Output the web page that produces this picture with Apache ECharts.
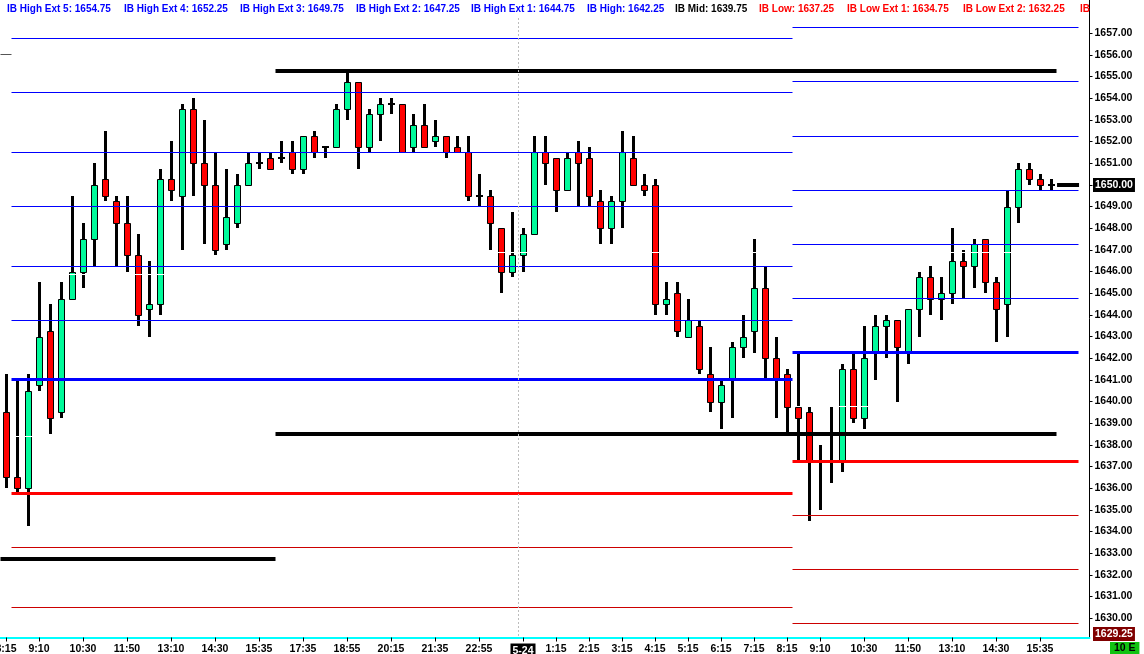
<!DOCTYPE html>
<html><head><meta charset="utf-8">
<script src="https://cdn.jsdelivr.net/npm/echarts@6/dist/echarts.min.js"></script>
<style>html,body{margin:0;padding:0;background:#fff}#c{width:1144px;height:654px}</style>
</head><body><div id="c"></div>
<script>
// ---------- DATA ----------
const opens = [1639.5,1636.5,1636.0,1640.75,1643.25,1639.5,1644.75,1646.0,1647.5,1650.25,
1649.25,1648.25,1646.75,1644.25,1644.5,1650.25,1649.5,1653.5,1651.0,1650.0,
1647.25,1648.25,1650.0,1651.0,1651.25,1651.25,1651.5,1650.75,1652.25,1651.75,
1651.75,1653.5,1654.75,1651.75,1653.25,1653.75,1653.75,1651.75,1652.75,1652.0,
1652.25,1651.75,1651.5,1649.5,1649.5,1648.0,1646.0,1646.75,1647.75,1651.5,
1651.25,1649.75,1651.5,1651.25,1649.25,1648.0,1649.25,1651.25,1650.0,1650.0,
1644.5,1645.0,1643.0,1643.5,1641.25,1640.0,1641.0,1642.5,1643.25,1645.25,
1642.0,1641.25,1639.75,1639.5,1637.25,1638.5,1637.25,1641.5,1639.25,1642.25,
1643.5,1643.75,1642.25,1644.25,1645.75,1644.75,1645.0,1646.5,1646.25,1647.5,
1645.5,1644.5,1649.0,1650.75,1650.25,1650.0];
const closes = [1636.5,1636.0,1640.5,1643.0,1639.25,1644.75,1646.0,1647.5,1650.0,1649.5,
1648.25,1646.75,1644.0,1644.5,1650.25,1649.75,1653.5,1651.0,1650.0,1647.0,
1648.5,1650.0,1651.0,1651.0,1650.75,1651.25,1650.75,1652.25,1651.5,1651.75,
1653.5,1654.75,1651.75,1653.25,1653.75,1653.75,1651.5,1652.75,1651.75,1652.25,
1651.5,1651.5,1649.5,1649.5,1648.25,1646.0,1646.75,1647.75,1651.5,1651.0,
1649.75,1651.25,1651.0,1649.5,1648.0,1649.25,1651.5,1650.0,1649.75,1644.5,
1644.75,1643.25,1643.75,1641.5,1640.0,1640.75,1642.5,1643.0,1645.25,1642.0,
1641.0,1639.75,1639.25,1637.25,1637.25,1638.5,1641.5,1639.25,1642.0,1643.5,
1643.75,1642.5,1644.25,1645.75,1644.75,1645.0,1646.5,1646.25,1647.25,1645.5,
1644.25,1649.0,1650.75,1650.25,1650.0,1650.0];
const lows = [1636.0,1635.75,1634.25,1640.5,1638.5,1639.25,1644.75,1645.25,1646.25,1649.25,
1646.25,1646.0,1643.5,1643.0,1644.0,1649.25,1647.0,1649.5,1647.25,1646.75,
1647.0,1648.0,1650.0,1650.75,1650.75,1651.0,1650.5,1650.5,1651.25,1651.25,
1651.75,1653.0,1650.75,1651.5,1652.0,1653.25,1651.5,1651.5,1651.75,1651.75,
1651.25,1651.5,1649.25,1649.0,1647.0,1645.0,1645.75,1646.0,1647.75,1650.0,
1648.75,1649.75,1649.0,1649.0,1647.25,1647.25,1648.0,1650.0,1649.5,1644.0,
1644.0,1643.0,1643.0,1641.25,1639.5,1638.75,1639.25,1642.0,1642.25,1641.0,
1639.25,1638.5,1637.25,1634.5,1635.0,1636.25,1636.75,1639.0,1638.75,1641.0,
1642.0,1640.0,1641.75,1643.0,1644.0,1643.75,1644.5,1644.75,1645.25,1645.0,
1642.75,1643.0,1648.25,1650.0,1649.75,1649.75];
const highs = [1641.25,1641.0,1641.25,1645.5,1644.5,1645.5,1649.5,1648.25,1651.0,1652.5,
1649.5,1649.5,1647.75,1646.5,1650.75,1652.0,1653.75,1654.0,1653.0,1651.5,
1650.75,1650.5,1651.5,1651.5,1651.5,1652.0,1652.0,1652.25,1652.5,1651.75,
1653.75,1655.25,1654.75,1653.5,1654.0,1654.0,1653.75,1653.25,1653.75,1653.0,
1652.25,1652.25,1652.25,1650.5,1649.75,1648.0,1648.75,1648.0,1652.25,1652.25,
1651.25,1651.5,1652.0,1651.75,1649.75,1649.5,1652.5,1652.25,1650.5,1650.25,
1645.5,1645.5,1644.75,1643.75,1642.5,1641.0,1642.75,1644.0,1647.5,1646.25,
1643.0,1641.5,1642.25,1639.75,1638.0,1639.75,1641.75,1642.25,1643.5,1644.0,
1644.0,1643.75,1644.25,1646.0,1646.25,1645.75,1648.0,1647.0,1647.5,1647.5,
1645.75,1649.75,1651.0,1651.0,1650.5,1650.25];

// x-axis tick labels (bar index -> text)
const tickIdx  = [0,3,7,11,15,19,23,27,31,35,39,43,47,50,53,56,59,62,65,68,71,74,78,82,86,90,94];
const tickText = ['8:15','9:10','10:30','11:50','13:10','14:30','15:35','17:35','18:55','20:15','21:35','22:55','5-24',
                  '1:15','2:15','3:15','4:15','5:15','6:15','7:15','8:15','9:10','10:30','11:50','13:10','14:30','15:35'];
const slotCount = 99;

// IB levels, day 1 (left) and day 2 (right)
const day1HighExt = [1643.75,1646.25,1649.0,1651.5,1654.25,1656.75];
const day1IB = [1641.0,1638.375,1635.75];   // high, mid, low
const day1LowExt = [1633.25,1630.5];
const day2HighExt = [1644.75,1647.25,1649.75,1652.25,1654.75,1657.25];
const day2IB = [1642.25,1639.75,1637.25];   // high, mid, low
const day2LowExt = [1634.75,1632.25,1629.75];
// other reference levels
const overnightHL = [1655.25,1638.5];
const priorLevel = [1632.75];
const stubLevel = [1656.0];
const whiteLevels = [1645.875,1646.875];
const lastPrice = 1650.0;
const axisLowPrice = 1629.25;
// session ranges in bar-index units
const D1 = [0.5,71.5], D2 = [71.5,97.5], ON = [24.5,95.5], PRE = [-0.5,24.5];
const cursorIdx = 46.5;

// ---------- BUILD ----------
const GREEN = '#00fa9a', RED = '#ff0000';
const cats = Array.from({length:slotCount},(_,i)=>String(i));
const tickMap = new Map(tickIdx.map((v,k)=>[v,tickText[k]]));
const candleData = opens.map((o,i)=>[i,o,closes[i],lows[i],highs[i]]);

const LS = [
  {color:'#0000ff',width:1},  //0 blue thin
  {color:'#0000ff',width:3},  //1 blue thick
  {color:'#ff0000',width:3},  //2 red thick
  {color:'#cc0000',width:1},  //3 red thin
  {color:'#000000',width:4},  //4 black thick
  {color:'#ffffff',width:1},  //5 white
  {color:'#555555',width:1},  //6 grey stub
  {color:'#bcbcbc',width:1,dash:[2,2],vertical:true} //7 cursor
];
const lineData = [];
day1HighExt.forEach(p=>lineData.push([D1[0],D1[1],p,0]));
lineData.push([D1[0],D1[1],day1IB[0],1]);
lineData.push([D1[0],D1[1],day1IB[2],2]);
lineData.push([D1[0],D1[1],day1IB[1],5]);
day1LowExt.forEach(p=>lineData.push([D1[0],D1[1],p,3]));
day2HighExt.forEach(p=>lineData.push([D2[0],D2[1],p,0]));
lineData.push([D2[0],D2[1],day2IB[0],1]);
lineData.push([D2[0],D2[1],day2IB[2],2]);
lineData.push([D2[0],D2[1],day2IB[1],5]);
day2LowExt.forEach(p=>lineData.push([D2[0],D2[1],p,3]));
lineData.push([PRE[0]+1,PRE[1],whiteLevels[0],5]);
lineData.push([ON[0],ON[1],whiteLevels[1],5]);
overnightHL.forEach(p=>lineData.push([ON[0],ON[1],p,4]));
priorLevel.forEach(p=>lineData.push([PRE[0],PRE[1],p,4]));
stubLevel.forEach(p=>lineData.push([-0.5,0.5,p,6]));
lineData.push([ON[1]+0.05,D2[1]+0.05,lastPrice,4]);
lineData.push([cursorIdx,cursorIdx,lastPrice,7]);

function renderCandle(params, api){
  const i=api.value(0), o=api.value(1), c=api.value(2);
  const l=Math.min(api.value(3),o,c), h=Math.max(api.value(4),o,c);
  const cx=Math.round(api.coord([i,o])[0]);
  const yO=Math.round(api.coord([i,o])[1]), yC=Math.round(api.coord([i,c])[1]);
  const yL=Math.round(api.coord([i,l])[1]), yH=Math.round(api.coord([i,h])[1]);
  const ch=[{type:'rect',shape:{x:cx-1,y:yH,width:3,height:Math.max(yL-yH,1)},style:{fill:'#000'}}];
  if(o===c){
    ch.push({type:'rect',shape:{x:cx-3,y:yO-1,width:7,height:2},style:{fill:'#000'}});
  } else {
    const t=Math.min(yO,yC), b=Math.max(yO,yC);
    ch.push({type:'rect',shape:{x:cx-2.5,y:t+0.5,width:6,height:Math.max(b-t,1)},
      style:{fill:c>o?GREEN:RED,stroke:'#000',lineWidth:1}});
  }
  return {type:'group',children:ch};
}
function renderLine(params, api){
  const s0=api.value(0), s1=api.value(1), p=api.value(2), st=LS[api.value(3)];
  const org=api.coord([0,p]); const bw=api.size([1,0])[0];
  const cs=params.coordSys;
  if(st.vertical){
    const x=Math.round(org[0]+s0*bw)+0.5;
    return {type:'line',shape:{x1:x,y1:cs.y+18,x2:x,y2:cs.y+cs.height},style:{stroke:st.color,lineWidth:1,lineDash:st.dash}};
  }
  let y=org[1];
  y = (st.width%2) ? Math.round(y-0.5)+0.5 : Math.round(y);
  return {type:'line',shape:{x1:org[0]+s0*bw,y1:y,x2:org[0]+s1*bw,y2:y},style:{stroke:st.color,lineWidth:st.width}};
}
const tagData = [[0,lastPrice,0],[0,axisLowPrice,1]];
const TAG = [{bg:'#000000',fg:'#ffffff'},{bg:'#800000',fg:'#ffffff'}];
function renderTag(params, api){
  const p=api.value(1), st=TAG[api.value(2)];
  const cs=params.coordSys; const y=api.coord([0,p])[1];
  return {type:'text',x:cs.x+cs.width+3.5,y:Math.round(y),style:{text:p.toFixed(2),fill:st.fg,
    backgroundColor:st.bg,padding:[2,2,1,2],font:'bold 10.5px "Liberation Sans", Arial, sans-serif',
    verticalAlign:'middle',align:'left'}};
}

// header
const headerLabels = ['IB High Ext 5','IB High Ext 4','IB High Ext 3','IB High Ext 2','IB High Ext 1','IB High','IB Mid','IB Low','IB Low Ext 1','IB Low Ext 2'];
const headerValues = [day2HighExt[4],day2HighExt[3],day2HighExt[2],day2HighExt[1],day2HighExt[0],day2IB[0],day2IB[1],day2IB[2],day2LowExt[0],day2LowExt[1]];
const headerColors = ['#0000ff','#0000ff','#0000ff','#0000ff','#0000ff','#0000ff','#000000','#ff0000','#ff0000','#ff0000'];
const headerX = [7,124,240,356,471,587,675,759,847,963];
const graphics = headerLabels.map((t,k)=>({type:'text',left:headerX[k],top:4,z:10,
  style:{text:t+': '+headerValues[k].toFixed(2),fill:headerColors[k],font:'bold 10px "Liberation Sans", Arial, sans-serif'}}));
graphics.push({type:'text',left:1080,top:4,z:10,style:{text:'IB',fill:'#ff0000',font:'bold 10px "Liberation Sans", Arial, sans-serif'}});
graphics.push({type:'text',left:1110,top:642,z:10,style:{text:' 10 E ',fill:'#000',backgroundColor:'#12c212',padding:[1,1,1,1],
  font:'bold 10.5px "Liberation Sans", Arial, sans-serif'}});

const yTicks = Array.from({length:28},(_,k)=>1630+k);

const chart = echarts.init(document.getElementById('c'));
chart.setOption({
  animation:false,
  backgroundColor:'#ffffff',
  grid:{left:0.5,right:54.5,top:0,bottom:16.5,containLabel:false,outerBoundsMode:'none'},
  xAxis:{type:'category',data:cats,boundaryGap:true,
    axisLine:{show:true,lineStyle:{color:'#00ffff',width:2}},
    axisTick:{show:true,alignWithLabel:true,length:4,interval:(i)=>tickMap.has(i),lineStyle:{color:'#000'}},
    axisLabel:{show:true,interval:(i)=>tickMap.has(i),margin:6,color:'#000',fontWeight:'bold',fontSize:10.5,
      fontFamily:'"Liberation Sans", Arial, sans-serif',
      formatter:(v,i)=>{const t=tickMap.get(+v); if(t===undefined) return ''; return t.indexOf('-')>=0?'{hl|'+t+'}':t;},
      rich:{hl:{backgroundColor:'#000',color:'#fff',fontWeight:'bold',fontSize:10.5,padding:[2,2,1,2]}}},
    splitLine:{show:false}},
  yAxis:{type:'value',position:'right',min:1629.11,max:1658.53,scale:true,
    axisLine:{show:true,onZero:false,lineStyle:{color:'#000',width:1}},
    axisTick:{show:true,length:3,customValues:yTicks,lineStyle:{color:'#000'}},
    axisLabel:{show:true,customValues:yTicks,margin:5,color:'#000',fontWeight:'bold',fontSize:10.5,
      fontFamily:'"Liberation Sans", Arial, sans-serif',formatter:(v)=>v.toFixed(2)},
    splitLine:{show:false}},
  graphic:graphics,
  series:[
    {type:'custom',name:'candles',data:candleData,renderItem:renderCandle,z:2,encode:{x:0,y:[1,2,3,4]},silent:true},
    {type:'custom',name:'levels',data:lineData,renderItem:renderLine,z:3,encode:{x:0,y:2},silent:true},
    {type:'custom',name:'tags',data:tagData,renderItem:renderTag,z:5,encode:{x:0,y:1},silent:true,clip:false}
  ]
});
</script></body></html>
